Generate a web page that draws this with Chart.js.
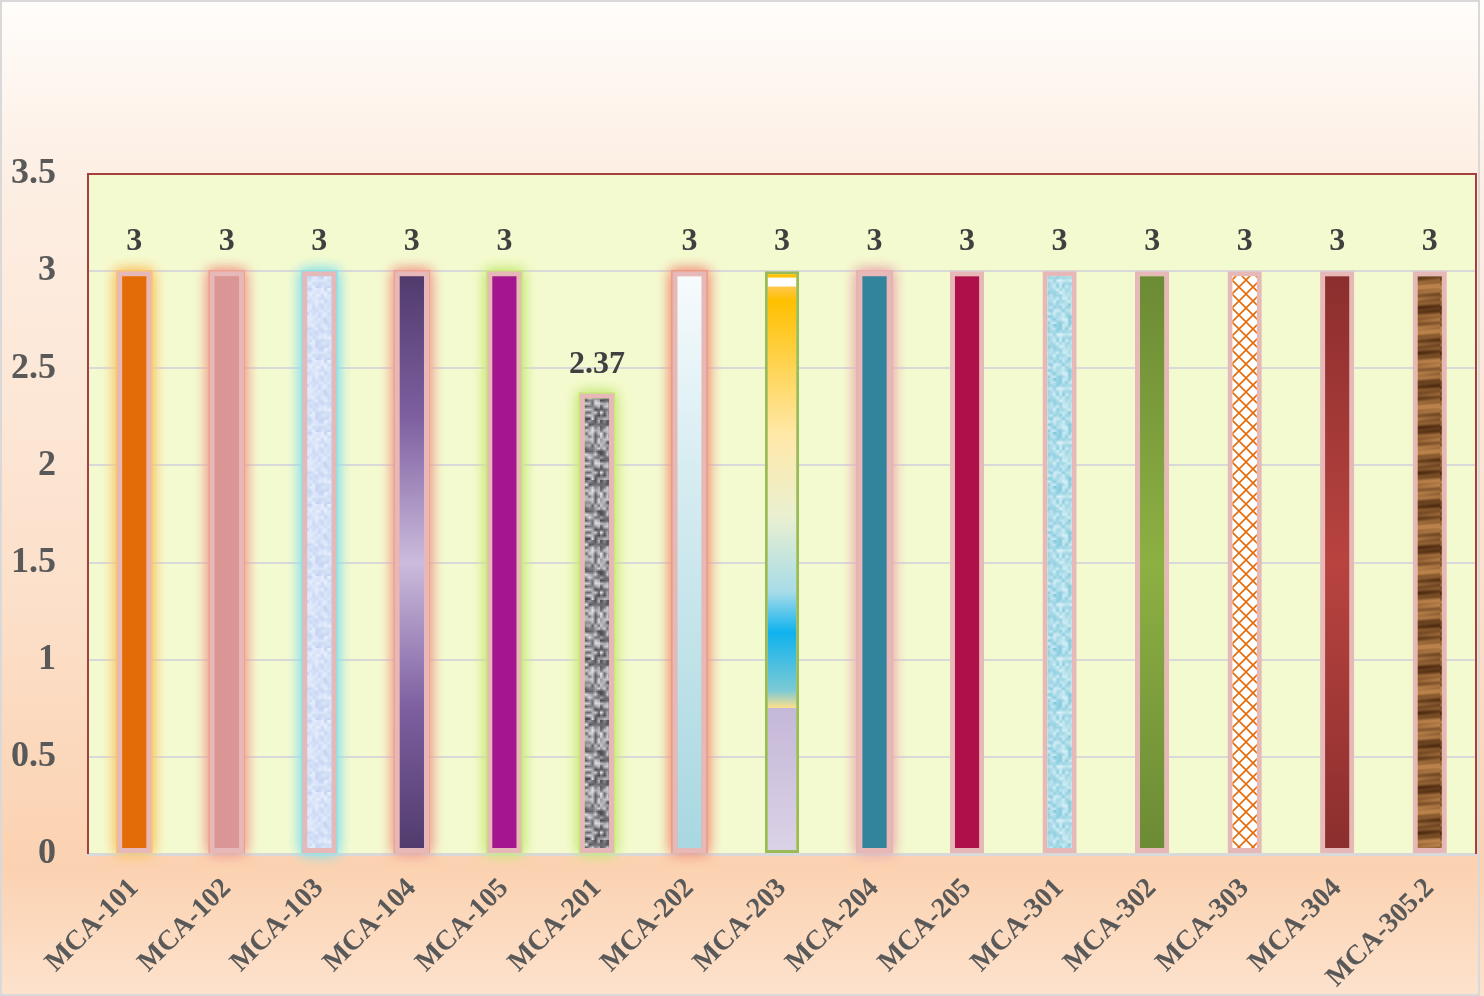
<!DOCTYPE html>
<html>
<head>
<meta charset="utf-8">
<script src="https://cdn.jsdelivr.net/npm/chart.js@4"></script>
<style>
  html, body { margin: 0; padding: 0; background: #fff; }
  canvas { display: block; }
</style>
</head>
<body>
<canvas id="chart" width="1484" height="996"></canvas>
<script>
// data
const courses = ['MCA-101', 'MCA-102', 'MCA-103', 'MCA-104', 'MCA-105', 'MCA-201', 'MCA-202', 'MCA-203',
  'MCA-204', 'MCA-205', 'MCA-301', 'MCA-302', 'MCA-303', 'MCA-304', 'MCA-305.2'];
const scores = [3, 3, 3, 3, 3, 2.37, 3, 3, 3, 3, 3, 3, 3, 3, 3];
const yMin = 0;
const yMax = 3.5;
const yStep = 0.5;

// little helper for textures (deterministic hash, no Math.random)
function hash(i, j) {
  const s = Math.sin(i * 12.9898 + j * 78.233) * 43758.5453;
  return s - Math.floor(s);
}
function mix(a, b, t) {
  return [0, 1, 2].map(k => Math.round(a[k] + (b[k] - a[k]) * t));
}
function makePattern(w, h, paint, scale) {
  const c = document.createElement('canvas');
  c.width = w; c.height = h;
  const g = c.getContext('2d');
  paint(g, w, h);
  let src = c;
  if (scale) {
    src = document.createElement('canvas');
    src.width = w * scale; src.height = h * scale;
    const g2 = src.getContext('2d');
    g2.imageSmoothingEnabled = true;
    g2.drawImage(c, 0, 0, w * scale, h * scale);
  }
  return document.getElementById('chart').getContext('2d').createPattern(src, 'repeat');
}

// MCA-103 : pale blue mottled
const pat103 = makePattern(12, 24, (g, w, h) => {
  for (let y = 0; y < h; y++) {
    for (let x = 0; x < w; x++) {
      const v = hash(x * 0.37, y * 0.51);
      const c = mix([196, 212, 244], [234, 240, 252], v);
      g.fillStyle = `rgb(${c[0]},${c[1]},${c[2]})`;
      g.fillRect(x, y, 1, 1);
    }
  }
}, 3);

// MCA-201 : granite
const pat201 = makePattern(10, 20, (g, w, h) => {
  for (let y = 0; y < h; y++) {
    for (let x = 0; x < w; x++) {
      const v = hash(x + 3.1, y * 1.7);
      const c = mix([70, 70, 75], [235, 235, 238], v);
      g.fillStyle = `rgb(${c[0]},${c[1]},${c[2]})`;
      g.fillRect(x, y, 1, 1);
    }
  }
}, 3);

// MCA-301 : water drops
const pat301 = makePattern(12, 18, (g, w, h) => {
  for (let y = 0; y < h; y++) {
    for (let x = 0; x < w; x++) {
      const v = hash(x * 0.21 + 7, y * 0.33);
      const c = mix([128, 200, 220], [220, 242, 248], v);
      g.fillStyle = `rgb(${c[0]},${c[1]},${c[2]})`;
      g.fillRect(x, y, 1, 1);
    }
  }
}, 3);

// MCA-303 : orange lattice
const pat303 = makePattern(14, 14, (g, w, h) => {
  g.fillStyle = '#ffffff';
  g.fillRect(0, 0, w, h);
  g.strokeStyle = '#e36c09';
  g.lineWidth = 1.6;
  g.beginPath();
  g.moveTo(0, 0); g.lineTo(w, h);
  g.moveTo(w, 0); g.lineTo(0, h);
  g.stroke();
});

// MCA-305.2 : wood
const pat305 = makePattern(24, 120, (g, w, h) => {
  for (let y = 0; y < h; y++) {
    for (let x = 0; x < w; x++) {
      let t = 0.55 + 0.3 * Math.sin(y * 0.157 + x * 0.03) + 0.2 * Math.sin(y * 0.42 + 1) + 0.12 * Math.sin(y * 1.1 + x * 0.1);
      t = Math.max(0, Math.min(1, t));
      const c = mix([80, 44, 16], [186, 130, 74], t);
      g.fillStyle = `rgb(${c[0]},${c[1]},${c[2]})`;
      g.fillRect(x, y, 1, 1);
    }
  }
});

function vGrad(chart, stops) {
  const ys = chart.scales.y;
  const top = ys.getPixelForValue(3);
  const bot = ys.getPixelForValue(0);
  const gr = chart.ctx.createLinearGradient(0, top, 0, bot);
  stops.forEach(s => gr.addColorStop(s[0], s[1]));
  return gr;
}

const solidFallback = ['#e36c09', '#d99694', '#cddcf6', '#7e5e9e', '#a5158f', '#9a9a9a', '#d8eef3', '#ffc000',
  '#31849b', '#b0104a', '#a6dbe8', '#77933c', '#ffffff', '#953735', '#8b5a2b'];

function barFill(ctx) {
  const chart = ctx.chart;
  const i = ctx.dataIndex;
  if (!chart.chartArea || !chart.scales.y) return solidFallback[i];
  switch (i) {
    case 2: return pat103;
    case 3: return vGrad(chart, [[0, '#4f3a6b'], [0.25, '#7d5fa0'], [0.5, '#cbbbdc'], [0.75, '#7d5fa0'], [1, '#4f3a6b']]);
    case 5: return pat201;
    case 6: return vGrad(chart, [[0, '#f7fbfd'], [0.35, '#d6ecf1'], [1, '#a8d7e0']]);
    case 7: return vGrad(chart, [[0, '#ffc000'], [0.01, '#ffc000'], [0.012, '#ffffff'], [0.025, '#ffffff'], [0.028, '#ffc74a'],
      [0.05, '#ffc000'], [0.28, '#ffe8a8'], [0.42, '#eaf0d0'], [0.55, '#a8dce8'], [0.62, '#0fb2ee'],
      [0.72, '#7ccad4'], [0.7499, '#ffe08a'], [0.7501, '#c5b8d8'], [1, '#dbd3e7']]);
    case 10: return pat301;
    case 11: return vGrad(chart, [[0, '#6b8a35'], [0.5, '#8db043'], [1, '#6b8a35']]);
    case 12: return pat303;
    case 13: return vGrad(chart, [[0, '#8b2e2e'], [0.5, '#b8433f'], [1, '#8b2e2e']]);
    case 14: return pat305;
    default: return solidFallback[i];
  }
}

const glowColors = ['#f9c56b', '#f0a090', '#8ee0e8', '#f0a090', '#c8e87a', '#c8e87a', '#f09880', null,
  '#e8b0b0', null, null, null, null, null, null];
const borderColors = courses.map((c, i) => i === 7 ? '#9bbb59' : '#e6b8b7');
const borderWidths = courses.map((c, i) => i === 7 ? 3 : 5);

const backdrop = {
  id: 'backdrop',
  beforeDraw(chart) {
    const { ctx, width, height, chartArea: a } = chart;
    ctx.save();
    const bg = ctx.createLinearGradient(0, 0, 0, height);
    bg.addColorStop(0, '#fffdfb');
    bg.addColorStop(0.17, '#fdefe4');
    bg.addColorStop(0.6, '#fce0ca');
    bg.addColorStop(0.87, '#fbd2b1');
    bg.addColorStop(1, '#fde2cd');
    ctx.fillStyle = bg;
    ctx.fillRect(0, 0, width, height);
    ctx.strokeStyle = '#d9d9d9';
    ctx.lineWidth = 2;
    ctx.strokeRect(1, 1, width - 6, height - 2);
    ctx.fillStyle = '#f4fad0';
    ctx.fillRect(a.left, a.top, a.right - a.left, a.bottom - a.top);
    ctx.restore();
  },
  beforeDatasetsDraw(chart) {
    const ctx = chart.ctx;
    const meta = chart.getDatasetMeta(0);
    ctx.save();
    meta.data.forEach((bar, i) => {
      if (!glowColors[i]) return;
      const w = bar.width;
      ctx.shadowColor = glowColors[i];
      ctx.shadowBlur = 14;
      ctx.fillStyle = glowColors[i];
      ctx.fillRect(bar.x - w / 2 - 1, bar.y - 1, w + 2, bar.base - bar.y + 1);
      ctx.fillRect(bar.x - w / 2 - 1, bar.y - 1, w + 2, bar.base - bar.y + 1);
    });
    ctx.restore();
  },
  afterDatasetsDraw(chart) {
    const ctx = chart.ctx;
    const meta = chart.getDatasetMeta(0);
    ctx.save();
    ctx.fillStyle = '#404040';
    ctx.font = 'bold 32px "Liberation Serif"';
    ctx.textAlign = 'center';
    ctx.textBaseline = 'bottom';
    meta.data.forEach((bar, i) => {
      ctx.fillText(String(scores[i]), bar.x, bar.y - 13);
    });
    const a = chart.chartArea;
    ctx.strokeStyle = '#a5403f';
    ctx.lineWidth = 2;
    ctx.beginPath();
    ctx.moveTo(a.left, a.bottom);
    ctx.lineTo(a.left, a.top);
    ctx.lineTo(a.right, a.top);
    ctx.lineTo(a.right, a.bottom);
    ctx.stroke();
    ctx.restore();
  }
};

const chart = new Chart(document.getElementById('chart'), {
  type: 'bar',
  data: {
    labels: courses,
    datasets: [{
      data: scores,
      backgroundColor: barFill,
      borderColor: borderColors,
      borderWidth: borderWidths,
      borderSkipped: false,
      barPercentage: 0.37,
      categoryPercentage: 1
    }]
  },
  options: {
    responsive: false,
    devicePixelRatio: 1,
    animation: false,
    layout: { padding: { top: 174, left: 6, right: 8, bottom: 0 } },
    plugins: {
      legend: { display: false },
      tooltip: { enabled: false }
    },
    scales: {
      x: {
        grid: { display: false },
        border: { color: '#d9d9d9', width: 3 },
        afterFit(scale) {
          scale.paddingLeft = 40;
          scale.height = 142;
        },
        ticks: {
          color: '#595959',
          font: { family: 'Liberation Serif', size: 28, weight: 'bold' },
          minRotation: 45,
          maxRotation: 45,
          padding: 10,
          autoSkip: false
        }
      },
      y: {
        min: yMin,
        max: yMax,
        border: { display: false },
        grid: { color: '#d9d9d9', lineWidth: 2, drawTicks: false },
        afterFit(scale) {
          scale.width = 82;
        },
        ticks: {
          stepSize: yStep,
          color: '#595959',
          font: { family: 'Liberation Serif', size: 36, weight: 'bold' },
          padding: 32,
          callback: v => String(v)
        }
      }
    }
  },
  plugins: [backdrop]
});
chart.update();
</script>
</body>
</html>
